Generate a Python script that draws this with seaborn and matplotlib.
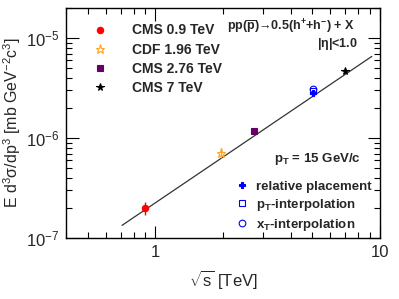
import numpy as np
import pandas as pd
import seaborn as sns
import matplotlib
matplotlib.use("Agg")
import matplotlib.pyplot as plt
from matplotlib.lines import Line2D
from matplotlib.ticker import FixedLocator, FixedFormatter, LogLocator, NullFormatter

# ---- data ----
datasets = ["CMS 0.9 TeV", "CDF 1.96 TeV", "CMS 2.76 TeV", "CMS 7 TeV"]
sqrt_s = [0.9, 1.96, 2.76, 7.0]
xsec = [2.0e-7, 7.1e-7, 1.18e-6, 4.7e-6]
xsec_err = [3.0e-8, 8.0e-8, 8.0e-8, 2.0e-7]

interp_methods = ["relative placement", "p$_{T}$-interpolation", "x$_{T}$-interpolation"]
interp_sqrt_s = [5.02, 5.02, 5.02]
interp_xsec = [2.85e-6, 2.95e-6, 3.1e-6]

# power-law fit  E d3s/dp3 = A * sqrt(s)^n
fit_A = 2.25e-7
fit_n = 1.52
fit_range = [0.71, 9.2]

x_ticks = [1, 10]
x_ticklabels = ["1", "10"]

# ---- style ----
sns.set_theme(style="ticks")
plt.rcParams["font.family"] = ["Liberation Sans", "DejaVu Sans"]
plt.rcParams["mathtext.fontset"] = "custom"
plt.rcParams["mathtext.rm"] = "Liberation Sans"
plt.rcParams["mathtext.it"] = "Liberation Sans:italic"
plt.rcParams["mathtext.bf"] = "Liberation Sans:bold"
plt.rcParams["mathtext.default"] = "regular"

fig = plt.figure(figsize=(3.99, 2.99), dpi=100)
W, H = 399, 299
ax = fig.add_axes([66 / W, 1 - 238 / H, (380 - 66) / W, (238 - 8) / H])
ax.set_xscale("log")
ax.set_yscale("log")
ax.set_xlim(0.4, 10)
ax.set_ylim(1e-7, 2e-5)

# fit line
fx = np.logspace(np.log10(fit_range[0]), np.log10(fit_range[1]), 50)
fit_df = pd.DataFrame({"x": fx, "y": fit_A * fx ** fit_n})
sns.lineplot(data=fit_df, x="x", y="y", ax=ax, color="#333333", lw=0.9, zorder=2)

colors = ["#ff0000", "#ffa31a", "#660066", "#000000"]
markers = ["o", "*", "s", "*"]
sizes = [4.6, 6.5, 4.3, 5.5]
fills = [True, False, True, True]
handles = []
for i in range(4):
    ax.errorbar(sqrt_s[i], xsec[i], yerr=xsec_err[i], fmt="none", ecolor=colors[i],
                elinewidth=1, zorder=3)
    fc = colors[i] if fills[i] else "none"
    ax.plot([sqrt_s[i]], [xsec[i]], marker=markers[i], ms=sizes[i], mfc=fc, mec=colors[i],
            mew=0.8, ls="none", zorder=4)
    handles.append(Line2D([], [], marker=markers[i], ms=sizes[i], mfc=fc, mec=colors[i],
                          mew=0.8, ls="none"))

blue = "#0000ff"
imarkers = ["P", "s", "o"]
ifill = [True, False, False]
isizes = [5.0, 4.5, 4.8]
ihandles = []
for i in range(3):
    fc = blue if ifill[i] else "none"
    ax.plot([interp_sqrt_s[i]], [interp_xsec[i]], marker=imarkers[i], ms=isizes[i], mfc=fc,
            mec=blue, mew=0.8, ls="none", zorder=5)
    ihandles.append(Line2D([], [], marker=imarkers[i], ms=isizes[i], mfc=fc, mec=blue,
                           mew=0.8, ls="none"))

leg1 = ax.legend(handles, datasets, loc="upper left", bbox_to_anchor=(0.055, 0.975),
                 frameon=False, prop={"weight": "bold", "size": 10},
                 handlelength=1.0, handletextpad=1.8, labelspacing=0.38, borderpad=0.2)
ax.add_artist(leg1)
ax.legend(ihandles, interp_methods, loc="upper left", bbox_to_anchor=(0.51, 0.29),
          frameon=False, prop={"weight": "bold", "size": 9.5},
          handlelength=1.0, handletextpad=0.6, labelspacing=0.3, borderpad=0.2)

ax.text(0.92, 0.92, r"pp($\overline{\mathbf{p}}$)→0.5(h$^{\mathbf{+}}$+h$^{\mathbf{-}}$) + X",
        transform=ax.transAxes, ha="right", va="center", fontsize=9, fontweight="bold")
ax.text(0.93, 0.845, r"|$\eta$|<1.0", transform=ax.transAxes, ha="right", va="center",
        fontsize=9, fontweight="bold")
ax.text(0.94, 0.345, r"p$_{\mathbf{T}}$ = 15 GeV/c", transform=ax.transAxes, ha="right",
        va="center", fontsize=9.5, fontweight="bold")

ax.set_xlabel(r"$\sqrt{s}$ [TeV]", fontsize=12, labelpad=6)
ax.set_ylabel(r"E d$^{3}\sigma$/dp$^{3}$ [mb GeV$^{-2}$c$^{3}$]", fontsize=11.5, labelpad=2)

ax.xaxis.set_major_locator(FixedLocator(x_ticks))
ax.xaxis.set_major_formatter(FixedFormatter(x_ticklabels))
ax.xaxis.set_minor_locator(LogLocator(base=10, subs=np.arange(2, 10)))
ax.xaxis.set_minor_formatter(NullFormatter())
ax.yaxis.set_minor_locator(LogLocator(base=10, subs=np.arange(2, 10)))
ax.yaxis.set_minor_formatter(NullFormatter())
ax.tick_params(which="both", direction="in", top=True, right=True, color="black", width=0.8)
ax.tick_params(which="major", length=9, labelsize=12, pad=5)
ax.tick_params(which="minor", length=4.5)
for s in ax.spines.values():
    s.set_color("black")
    s.set_linewidth(1.0)

fig.savefig("out.png", dpi=100)
